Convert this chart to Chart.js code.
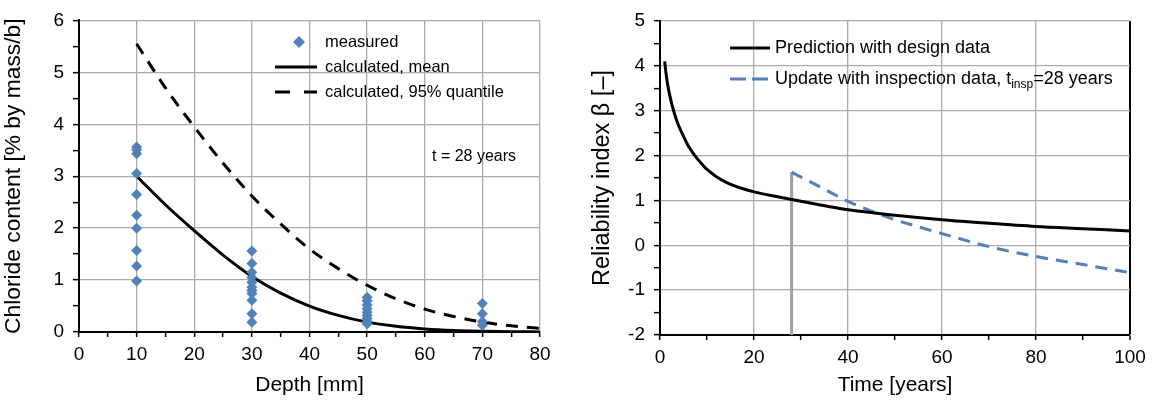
<!DOCTYPE html>
<html>
<head>
<meta charset="utf-8">
<script src="https://cdn.jsdelivr.net/npm/chart.js@4.4.0/dist/chart.umd.min.js"></script>
<style>
  html, body { margin: 0; padding: 0; background: #fff; }
  #wrap { position: relative; width: 1152px; height: 403px; overflow: hidden; }
  .box { position: absolute; top: 0; width: 576px; height: 403px; }
</style>
</head>
<body>
<div id="wrap">
  <div class="box" style="left:0"><canvas id="profile" width="576" height="403"></canvas></div>
  <div class="box" style="left:576px"><canvas id="reliability" width="576" height="403"></canvas></div>
</div>
<script>
// ---- chloride profile: measured values per depth [mm] ----
const chloride10 = [3.56, 3.51, 3.43, 3.05, 2.65, 2.25, 2.00, 1.57, 1.27, 0.98];
const chloride30 = [1.56, 1.32, 1.15, 1.05, 0.96, 0.86, 0.80, 0.74, 0.61, 0.35, 0.19];
const chloride50 = [0.67, 0.60, 0.52, 0.45, 0.38, 0.32, 0.26, 0.20, 0.16];
const chloride70 = [0.55, 0.35, 0.20, 0.13];

// ---- calculated profiles ----
const profileDepth    = [10, 15, 20, 25, 30, 35, 40, 45, 50, 55, 60, 65, 70, 75, 80];
const profileMean     = [3.00, 2.45, 1.95, 1.48, 1.07, 0.75, 0.50, 0.32, 0.19, 0.11, 0.06, 0.03, 0.015, 0.006, 0.002];
const profileQuantile = [5.55, 4.70, 3.95, 3.25, 2.62, 2.08, 1.60, 1.22, 0.90, 0.64, 0.44, 0.30, 0.19, 0.12, 0.07];

// ---- reliability index over time ----
const designTime = [1, 1.25, 1.5, 1.75, 2, 2.5, 3, 3.5, 4, 5, 6, 7, 8, 9, 10, 12, 14, 16, 18, 20, 25, 30, 35, 40, 50, 60, 70, 80, 90, 100];
const designBeta = [4.10, 3.86, 3.67, 3.51, 3.38, 3.15, 2.96, 2.80, 2.66, 2.43, 2.22, 2.06, 1.92, 1.80, 1.69, 1.53, 1.41, 1.32, 1.25, 1.19, 1.08, 0.98, 0.88, 0.79, 0.67, 0.57, 0.49, 0.42, 0.37, 0.32];
const inspectionTime = 28;
const updateTime = [28, 30, 35, 40, 45, 50, 55, 60, 70, 80, 90, 100];
const updateBeta = [1.63, 1.52, 1.25, 0.98, 0.76, 0.57, 0.41, 0.26, -0.03, -0.25, -0.43, -0.61];

const FONT = '"Liberation Sans", Arial, sans-serif';
const BLUE = '#4F81BD';
const GRID = '#ababab';
const TRANSPARENT = 'rgba(0,0,0,0)';

const pairs = (xs, ys) => ys.map((y, i) => ({ x: xs[i], y }));
const atDepth = (d, vals) => vals.map(v => ({ x: d, y: v }));

function yAxis(min, max, width, title, titleSize, titleOffset) {
  return {
    type: 'linear', min, max,
    afterFit(s) { s.width = width; },
    ticks: {
      stepSize: 0.5, autoSkip: false, padding: 9, color: '#000',
      font: { family: FONT, size: 19 },
      callback: v => Number.isInteger(v) ? String(v) : ''
    },
    grid: {
      color: c => (c.tick && Number.isInteger(c.tick.value)) ? GRID : TRANSPARENT,
      lineWidth: 1.3, tickColor: '#000', tickLength: 6, tickWidth: 1.5
    },
    border: { color: '#000', width: 2 },
    title: { display: true, text: title, color: '#000', font: { family: FONT, size: titleSize }, padding: { top: titleOffset, bottom: 4 } }
  };
}

function xAxis(max, step, labelEvery, height, title, edgeColor) {
  return {
    type: 'linear', min: 0, max,
    afterFit(s) { s.height = height; },
    ticks: {
      stepSize: step, autoSkip: false, maxRotation: 0, padding: 6, color: '#000',
      font: { family: FONT, size: 19 },
      callback: v => (v % labelEvery === 0) ? String(v) : ''
    },
    grid: {
      color: c => {
        if (!c.tick) return TRANSPARENT;
        if (c.tick.value === max) return edgeColor;
        return (c.tick.value % labelEvery === 0) ? GRID : TRANSPARENT;
      },
      lineWidth: c => (c.tick && c.tick.value === max && edgeColor === '#000') ? 2 : 1.3,
      tickColor: '#000', tickLength: 5, tickWidth: 1.5
    },
    border: { color: '#000', width: 2 },
    title: { display: true, text: title, color: '#000', font: { family: FONT, size: 21 }, padding: { top: 4, bottom: 5 } }
  };
}

function legendLine(c, x1, x2, y, color, dash) {
  c.save();
  c.strokeStyle = color; c.lineWidth = 3; c.setLineDash(dash || []);
  c.beginPath(); c.moveTo(x1, y); c.lineTo(x2, y); c.stroke();
  c.restore();
}

// legend and note for the chloride profile
const profileLegend = {
  id: 'profileLegend',
  afterDraw(chart) {
    const c = chart.ctx;
    c.save();
    c.fillStyle = BLUE;
    c.beginPath(); c.moveTo(299, 36); c.lineTo(305, 42); c.lineTo(299, 48); c.lineTo(293, 42); c.closePath(); c.fill();
    legendLine(c, 275, 317, 67, '#000');
    legendLine(c, 275, 317, 92, '#000', [15, 14]);
    c.fillStyle = '#000';
    c.font = '16.5px ' + FONT;
    c.textBaseline = 'middle';
    c.fillText('measured', 325, 42);
    c.fillText('calculated, mean', 325, 67);
    c.fillText('calculated, 95% quantile', 325, 92);
    c.font = '16px ' + FONT;
    c.fillText('t = 28 years', 432, 157);
    c.restore();
  }
};

// legend for the reliability chart
const reliabilityLegend = {
  id: 'reliabilityLegend',
  afterDraw(chart) {
    const c = chart.ctx;
    const ox = -576;
    c.save();
    legendLine(c, 730 + ox, 770 + ox, 48, '#000');
    legendLine(c, 730 + ox, 768 + ox, 79, BLUE, [16, 6]);
    c.fillStyle = '#000';
    c.textBaseline = 'middle';
    c.font = '18px ' + FONT;
    c.fillText('Prediction with design data', 775 + ox, 48);
    let x = 775 + ox;
    const part1 = 'Update with inspection data, t';
    c.fillText(part1, x, 79);
    x += c.measureText(part1).width;
    c.font = '12px ' + FONT;
    c.fillText('insp', x, 85);
    x += c.measureText('insp').width;
    c.font = '18px ' + FONT;
    c.fillText('=28 years', x, 79);
    c.restore();
  }
};

new Chart(document.getElementById('profile'), {
  type: 'line',
  data: {
    datasets: [
      {
        label: 'calculated, 95% quantile',
        data: pairs(profileDepth, profileQuantile),
        borderColor: '#000', borderWidth: 3, borderDash: [12, 9],
        pointRadius: 0, cubicInterpolationMode: 'monotone', fill: false, order: 3
      },
      {
        label: 'calculated, mean',
        data: pairs(profileDepth, profileMean),
        borderColor: '#000', borderWidth: 3,
        pointRadius: 0, cubicInterpolationMode: 'monotone', fill: false, order: 2
      },
      {
        label: 'measured',
        data: [].concat(atDepth(10, chloride10), atDepth(30, chloride30), atDepth(50, chloride50), atDepth(70, chloride70)),
        showLine: false,
        pointStyle: 'rectRot', pointRadius: 5.5,
        pointBackgroundColor: BLUE, pointBorderWidth: 0, pointBorderColor: BLUE,
        order: 1
      }
    ]
  },
  options: {
    responsive: false, animation: false,
    layout: { padding: { top: 19, right: 36, bottom: 0, left: 0 } },
    plugins: { legend: { display: false }, tooltip: { enabled: false } },
    scales: {
      x: xAxis(80, 5, 10, 71, 'Depth [mm]', GRID),
      y: yAxis(0, 6, 79, 'Chloride content [% by mass/b]', 22.8, 0)
    }
  },
  plugins: [profileLegend]
});

new Chart(document.getElementById('reliability'), {
  type: 'line',
  data: {
    datasets: [
      {
        label: 'inspection',
        data: [{ x: inspectionTime, y: -2 }, { x: inspectionTime, y: updateBeta[0] }],
        borderColor: '#a0a0a0', borderWidth: 3, pointRadius: 0, fill: false, order: 3
      },
      {
        label: 'Update with inspection data',
        data: pairs(updateTime, updateBeta),
        borderColor: BLUE, borderWidth: 3, borderDash: [12, 8],
        pointRadius: 0, cubicInterpolationMode: 'monotone', fill: false, order: 2
      },
      {
        label: 'Prediction with design data',
        data: pairs(designTime, designBeta),
        borderColor: '#000', borderWidth: 3,
        pointRadius: 0, cubicInterpolationMode: 'monotone', fill: false, order: 1
      }
    ]
  },
  options: {
    responsive: false, animation: false,
    layout: { padding: { top: 21, right: 22, bottom: 0, left: 0 } },
    plugins: { legend: { display: false }, tooltip: { enabled: false } },
    scales: {
      x: xAxis(100, 10, 20, 68, 'Time [years]', '#000'),
      y: yAxis(-2, 5, 84, 'Reliability index \u03B2 [\u2013]', 23.5, 12)
    }
  },
  plugins: [reliabilityLegend]
});
</script>
</body>
</html>
